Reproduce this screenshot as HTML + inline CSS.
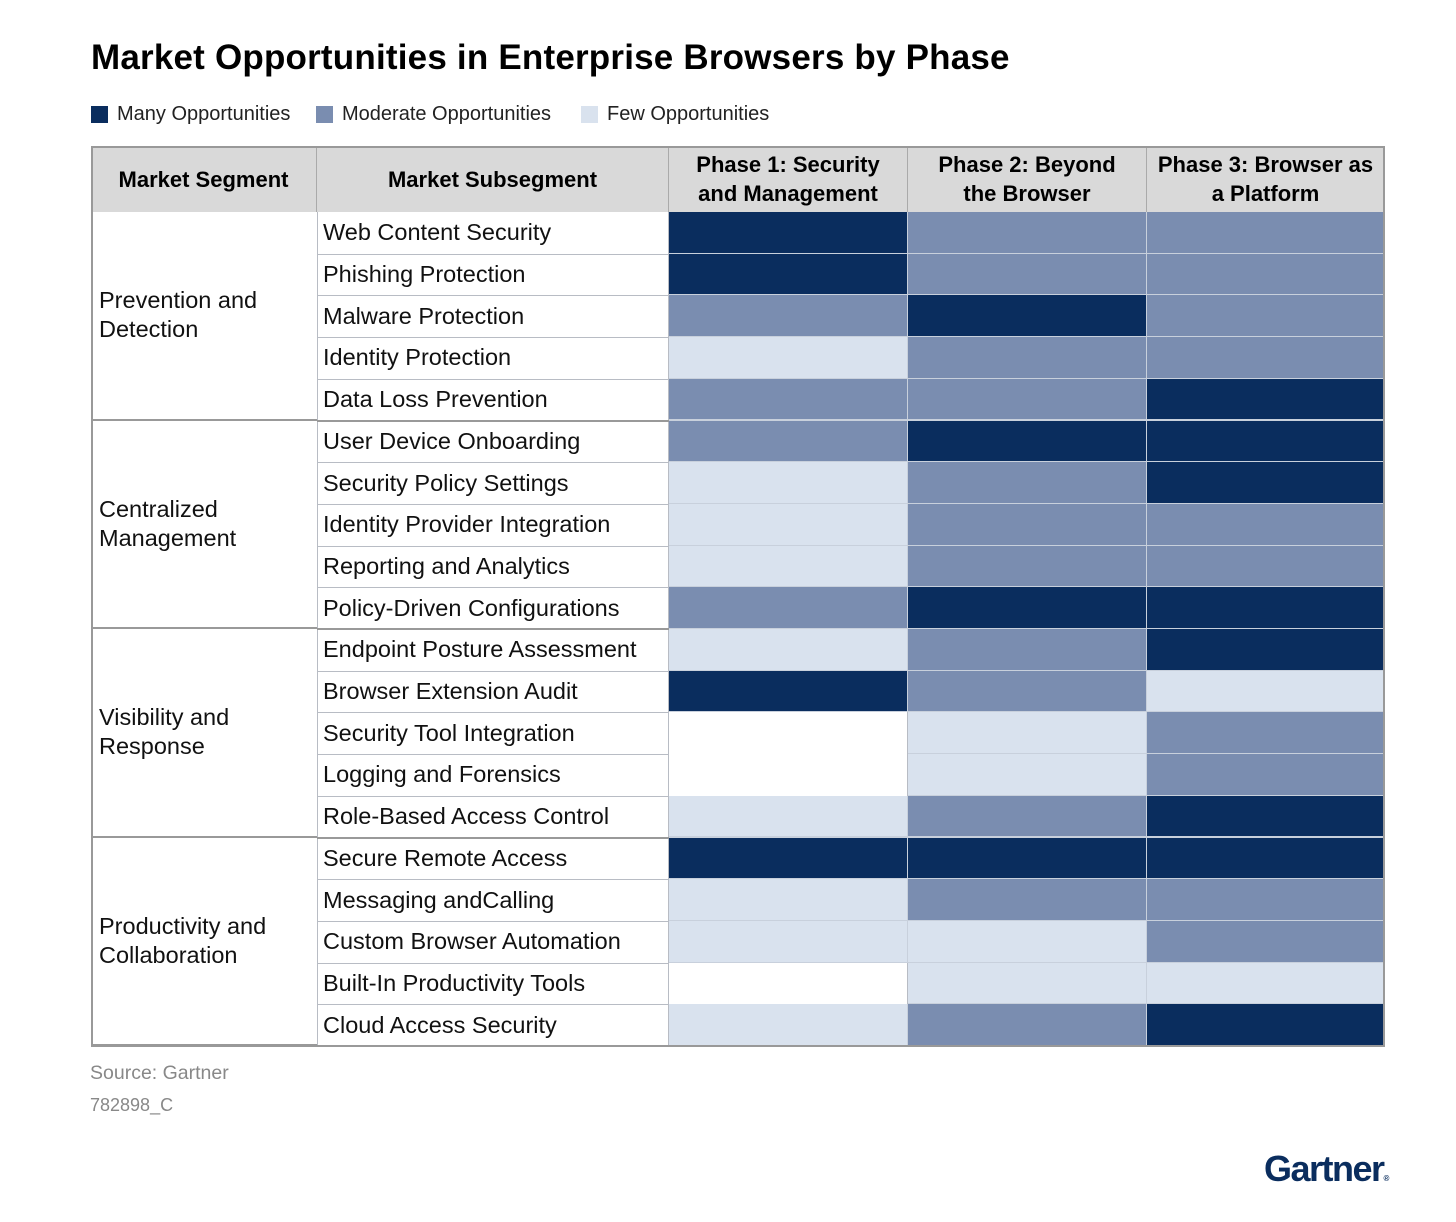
<!DOCTYPE html>
<html><head><meta charset="utf-8">
<style>
body{margin:0;width:1456px;height:1222px;background:#fff;font-family:"Liberation Sans",sans-serif;position:relative;overflow:hidden}
.a{position:absolute;box-sizing:border-box}
.title{left:91px;top:38px;font-size:35px;font-weight:bold;color:#000;letter-spacing:0.2px}
.leg{top:103px;font-size:20px;color:#222}
.sw{width:17px;height:17px;top:106px}
.cell{border-right:1px solid #c8d0dc;border-bottom:2px solid #c8d0dc}
.tc{border-right:1px solid #b8bcc4;border-bottom:1px solid #b8bcc4}
.hd{background:#d9d9d9;font-weight:bold;font-size:22px;text-align:center;display:flex;align-items:center;justify-content:center;line-height:29px;border-right:1px solid #aaa}
.sub{font-size:23.5px;color:#111;padding-left:5px;display:flex;align-items:center}
.seg{font-size:23.5px;color:#111;padding-left:8px;display:flex;align-items:center;line-height:29px}
</style></head><body>
<div class="a title">Market Opportunities in Enterprise Browsers by Phase</div>
<div class="a sw" style="left:91px;background:#0a2d5e"></div>
<div class="a leg" style="left:117px">Many Opportunities</div>
<div class="a sw" style="left:316px;background:#7a8db0"></div>
<div class="a leg" style="left:342px">Moderate Opportunities</div>
<div class="a sw" style="left:581px;background:#d9e2ee"></div>
<div class="a leg" style="left:607px">Few Opportunities</div>
<div id="tbl"></div>
<div class="a" style="left:90px;top:1062px;font-size:19.5px;color:#888">Source: Gartner</div>
<div class="a" style="left:90px;top:1095px;font-size:18px;color:#888">782898_C</div>
<div class="a" style="left:1264px;top:1148px;font-size:36px;font-weight:bold;color:#0a2d5e;letter-spacing:-1.5px">Gartner<span style="font-size:8px">®</span></div>
<script>
const segments=["Prevention and<br>Detection","Centralized<br>Management","Visibility and<br>Response","Productivity and<br>Collaboration"];
const subsegments=["Web Content Security","Phishing Protection","Malware Protection","Identity Protection","Data Loss Prevention","User Device Onboarding","Security Policy Settings","Identity Provider Integration","Reporting and Analytics","Policy-Driven Configurations","Endpoint Posture Assessment","Browser Extension Audit","Security Tool Integration","Logging and Forensics","Role-Based Access Control","Secure Remote Access","Messaging andCalling","Custom Browser Automation","Built-In Productivity Tools","Cloud Access Security"];
const phases=["Phase 1: Security<br>and Management","Phase 2: Beyond<br>the Browser","Phase 3: Browser as<br>a Platform"];
const phase1=[3,3,2,1,2,2,1,1,1,2,1,3,0,0,1,3,1,1,0,1];
const phase2=[2,2,3,2,2,3,2,2,2,3,2,2,1,1,2,3,2,1,1,2];
const phase3=[2,2,2,2,3,3,3,2,2,3,3,1,2,2,3,3,2,2,1,3];
const colors=["#ffffff","#d9e2ee","#7a8db0","#0a2d5e"];
const T=document.getElementById('tbl');
const X=[91,317,669,908,1147,1385],Y0=146,HH=66,RH=41.7;
function mk(cls,l,t,w,h,html,st){const d=document.createElement('div');d.className='a '+cls;d.style.cssText=`left:${l}px;top:${t}px;width:${w}px;height:${h}px;`+(st||'');d.innerHTML=html||'';T.appendChild(d);return d;}
let e;
e=mk('hd',X[0],Y0,X[1]-X[0],HH,'Market Segment');


e=mk('hd',X[1],Y0,X[2]-X[1],HH,'Market Subsegment');


phases.forEach((p,i)=>{e=mk('hd',X[2+i],Y0,X[3+i]-X[2+i],HH,p);

});
const cols=[phase1,phase2,phase3];
subsegments.forEach((s,r)=>{const y=Y0+HH+r*RH;
e=mk('sub tc',X[1],y,X[2]-X[1],RH+1,s,'border-left:1px solid #b8bcc4');


cols.forEach((c,i)=>{e=mk('cell',X[2+i],y,X[3+i]-X[2+i],RH+1,'','background:'+colors[c[r]]+(c[r]==0?';border-color:#b8bcc4;border-bottom-width:1px':''));

});});
segments.forEach((s,i)=>{const y=Y0+HH+i*5*RH;
e=mk('seg',X[0],y,X[1]-X[0],5*RH,s,'border-bottom:2px solid #999');


e=mk('',X[1],y+5*RH-1,X[2]-X[1],2,'','background:#999');

});
e=mk('',X[0],Y0,X[5]-X[0],HH+20*RH+1,'','border:2px solid #999;pointer-events:none');


</script>
</body></html>
